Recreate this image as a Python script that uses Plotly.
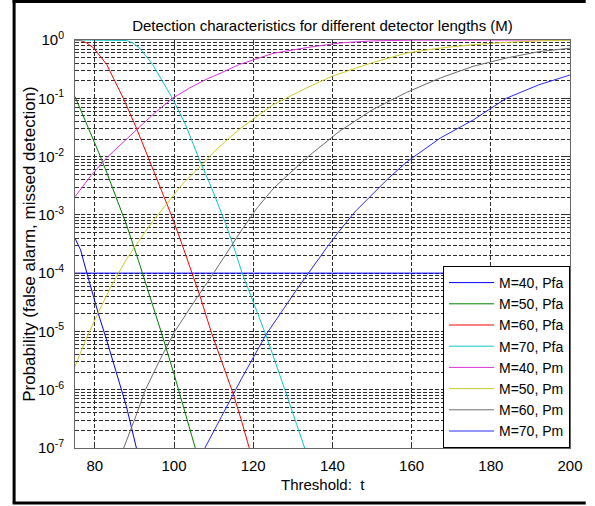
import plotly.graph_objects as go

# ---------------- data ----------------
x_ticks = [80, 100, 120, 140, 160, 180, 200]
y_ticks = [1e-7, 1e-6, 1e-5, 1e-4, 1e-3, 1e-2, 1e-1, 1e0]
y_ticktext = ["10<sup>-7</sup>", "10<sup>-6</sup>", "10<sup>-5</sup>", "10<sup>-4</sup>",
              "10<sup>-3</sup>", "10<sup>-2</sup>", "10<sup>-1</sup>", "10<sup>0</sup>"]

t_pfa40 = [75, 76.4, 78, 81, 83, 85.5, 88, 90.5, 91.2]
p_pfa40 = [3.98e-4, 2.51e-4, 1.0e-4, 1.91e-5, 7.08e-6, 1.91e-6, 5.13e-7, 1.0e-7, 6.3e-8]

t_pfa50 = [75, 78, 81, 83, 85.5, 88, 91, 94, 97, 100, 102, 104, 105.3, 106]
p_pfa50 = [0.107, 0.0363, 0.0117, 5.37e-3, 1.95e-3, 6.76e-4, 1.66e-4, 3.89e-5, 8.71e-6,
           1.86e-6, 6.46e-7, 2.19e-7, 1.05e-7, 7.1e-8]

t_pfa60 = [75, 76.4, 78, 79.7, 83, 87.2, 90.5, 94.2, 97.1, 99.6, 102, 104.5, 106.6, 109.5,
           112.4, 114.9, 117, 119, 119.5]
p_pfa60 = [1.0, 0.98, 0.89, 0.73, 0.38, 0.1, 0.0309, 7.24e-3, 2.24e-3, 8.91e-4, 3.16e-4,
           1.0e-4, 3.98e-5, 9.33e-6, 2.51e-6, 8.71e-7, 3.02e-7, 1.0e-7, 7.6e-8]

t_pfa70 = [75, 85, 88, 89.6, 91.3, 94.6, 97.1, 99.6, 102.9, 106.2, 109.5, 112.8, 114.9,
           117.2, 120.5, 123.2, 128, 133, 133.6]
p_pfa70 = [1.0, 0.995, 0.98, 0.89, 0.73, 0.38, 0.195, 0.1, 0.0355, 9.55e-3, 2.88e-3,
           7.76e-4, 3.09e-4, 1.0e-4, 2.63e-5, 8.71e-6, 1.0e-6, 1.0e-7, 7.6e-8]

t_pm40 = [75, 79, 83, 87, 91, 95, 99.6, 104, 108, 112, 116.5, 125, 133.5, 142, 150, 160,
          170, 200]
p_pm40 = [2.04e-3, 4.68e-3, 9.55e-3, 0.0174, 0.0309, 0.055, 0.1, 0.151, 0.209, 0.275,
          0.38, 0.589, 0.741, 0.891, 0.966, 0.995, 1.0, 1.0]

t_pm50 = [75, 78, 81, 84, 86, 88, 91, 94.6, 98.3, 102, 106.6, 111, 116.5, 125, 133.5, 140,
          150, 159, 167, 175.6, 184, 192, 200]
p_pm50 = [2.51e-6, 7.94e-6, 2.19e-5, 5.75e-5, 1.0e-4, 1.74e-4, 3.47e-4, 7.76e-4, 1.58e-3,
          3.31e-3, 6.76e-3, 0.0138, 0.0295, 0.0776, 0.151, 0.24, 0.407, 0.603, 0.724, 0.832,
          0.912, 0.966, 0.989]

t_pm60 = [86.8, 87.3, 90, 92.8, 96.5, 100.2, 105, 110, 116.9, 121, 125.2, 133.5, 141.7, 150,
          158.7, 167.3, 175.6, 183.9, 192.1, 200]
p_pm60 = [7.9e-8, 1.0e-7, 3.02e-7, 1.0e-6, 3.31e-6, 1.0e-5, 3.16e-5, 1.0e-4, 5.25e-4,
          1.32e-3, 2.88e-3, 9.55e-3, 0.0269, 0.0631, 0.126, 0.224, 0.355, 0.49, 0.631, 0.724]

t_pm70 = [107.3, 107.8, 112, 116.9, 123.2, 131, 138.8, 141.7, 145.8, 150, 154.2, 159, 167.3,
          175.6, 179.8, 183.9, 192.1, 200]
p_pm70 = [8.3e-8, 1.0e-7, 3.47e-7, 1.48e-6, 8.71e-6, 5.25e-5, 2.88e-4, 5.25e-4, 1.15e-3,
          2.24e-3, 4.27e-3, 8.32e-3, 0.0209, 0.0427, 0.0661, 0.1, 0.17, 0.251]

level_t = [75, 200]
level_p = [1e-4, 1e-4]

series = [
    ("M=40, Pfa", t_pfa40, p_pfa40, "#0000ff"),
    ("M=50, Pfa", t_pfa50, p_pfa50, "#008000"),
    ("M=60, Pfa", t_pfa60, p_pfa60, "#ff0000"),
    ("M=70, Pfa", t_pfa70, p_pfa70, "#10c8c8"),
    ("M=40, Pm", t_pm40, p_pm40, "#dd33dd"),
    ("M=50, Pm", t_pm50, p_pm50, "#cccc2a"),
    ("M=60, Pm", t_pm60, p_pm60, "#6e6e6e"),
    ("M=70, Pm", t_pm70, p_pm70, "#2a2aff"),
]

# ---------------- figure ----------------
FONT = "Liberation Sans, Arial, sans-serif"
W, H = 595, 506
L, R, T, B = 75, 16, 40, 58
PW, PH = W - L - R, H - T - B

fig = go.Figure()
fig.add_trace(go.Scatter(x=level_t, y=level_p, mode="lines", showlegend=False,
                         line=dict(color="#0000ff", width=1), hoverinfo="skip"))
for name, tt, pp, col in series:
    fig.add_trace(go.Scatter(x=tt, y=pp, mode="lines", name=name,
                             line=dict(color=col, width=1)))

minor_vals = [k * 10.0 ** e for e in range(-7, 0) for k in range(2, 10)]
grid_col = "#2a2a2a"
grid_dash = "4px,2px"

fig.update_layout(
    width=W, height=H, autosize=False,
    margin=dict(l=L, r=R, t=T, b=B),
    paper_bgcolor="white", plot_bgcolor="white",
    font=dict(family=FONT, size=15, color="black"),
    title=dict(text="Detection characteristics for different detector lengths (M)",
               x=0.5, xref="paper", xanchor="center",
               y=1 - 26 / H, yref="container", yanchor="middle",
               font=dict(family=FONT, size=15, color="black")),
    xaxis=dict(range=[75, 200], tickvals=x_ticks, ticks="inside", ticklen=5,
               tickcolor="#333", showline=True, linecolor="#666", linewidth=1,
               mirror="ticks", showgrid=True, gridcolor=grid_col, griddash=grid_dash,
               gridwidth=1, zeroline=False, tickfont=dict(size=15, family=FONT),
               ticklabelstandoff=4),
    yaxis=dict(type="log", range=[-7, 0], tickvals=y_ticks, ticktext=y_ticktext,
               ticks="inside", ticklen=5, tickcolor="#333", showline=True,
               linecolor="#666", linewidth=1, mirror="ticks", showgrid=True,
               gridcolor=grid_col, griddash=grid_dash, gridwidth=1, zeroline=False,
               tickfont=dict(size=15, family=FONT), ticklabelstandoff=7,
               minor=dict(tickvals=minor_vals, ticks="inside", ticklen=3,
                          tickcolor="#333", showgrid=True, gridcolor=grid_col,
                          griddash=grid_dash, gridwidth=1)),
    legend=dict(x=1, y=0, xanchor="right", yanchor="bottom", bgcolor="white",
                bordercolor="black", borderwidth=1, font=dict(family=FONT, size=14),
                itemwidth=45, tracegroupgap=0),
    showlegend=True,
)

def px_x(px):
    return (px - L) / PW

def px_y(py):
    return (H - B - py) / PH

fig.add_annotation(text="Threshold:  t", xref="paper", yref="paper",
                   x=0.5, y=px_y(485), xanchor="center", yanchor="middle",
                   showarrow=False, font=dict(family=FONT, size=15, color="black"))
fig.add_annotation(text="Probability (false alarm, missed detection)", xref="paper",
                   yref="paper", x=px_x(28), y=0.5, xanchor="center", yanchor="middle",
                   textangle=-90, showarrow=False,
                   font=dict(family=FONT, size=17, color="black"))

# outer black frame of the figure window: left, top and bottom edges, kept inside the page
frame = dict(color="black", width=3)
fig.add_shape(type="line", xref="paper", yref="paper", layer="above",
              x0=px_x(13), x1=px_x(13), y0=px_y(503), y1=px_y(0), line=frame)
fig.add_shape(type="line", xref="paper", yref="paper", layer="above",
              x0=px_x(11.5), x1=px_x(595), y0=px_y(1.5), y1=px_y(1.5), line=frame)
fig.add_shape(type="line", xref="paper", yref="paper", layer="above",
              x0=px_x(11.5), x1=px_x(595), y0=px_y(503), y1=px_y(503), line=frame)

# keep the figure at a fixed size at the window's top-left corner, no toolbar
fig.write_html(
    "out.html",
    config={"responsive": False, "displayModeBar": False},
    post_script="document.body.style.margin='0';document.body.style.overflow='hidden';",
)
